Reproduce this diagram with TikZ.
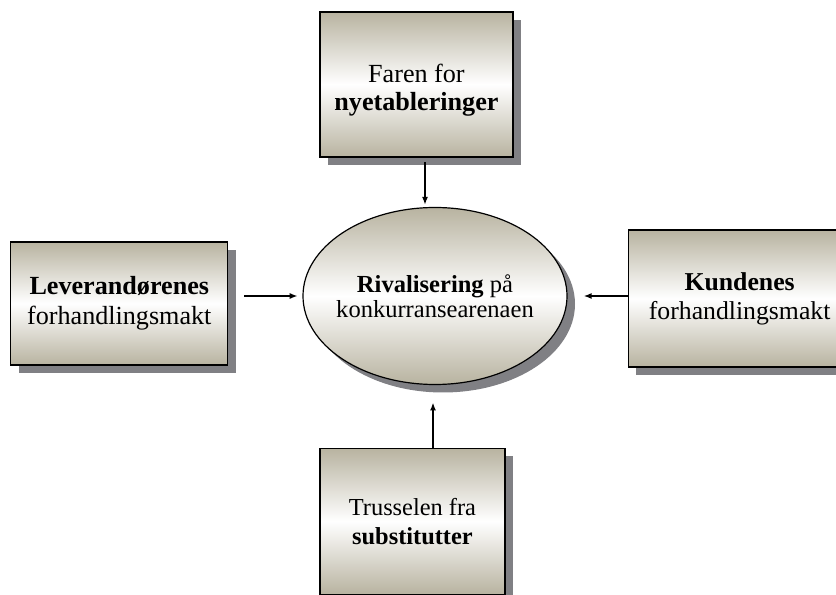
\documentclass[tikz,border=0pt]{standalone}
\usepackage{fontspec}
\setmainfont{Liberation Serif}
\usetikzlibrary{positioning,shadows,shapes.geometric,arrows.meta}
\definecolor{khaki}{RGB}{184,179,160}
\definecolor{shade}{RGB}{128,128,132}

\begin{document}
\begin{tikzpicture}[node distance=40pt, >={Latex[length=6pt,width=4.5pt]},
    force/.style = {draw, line width=0.9pt, align=center, inner sep=0pt,
      top color=khaki, bottom color=khaki, middle color=white,
      drop shadow={shadow xshift=6pt, shadow yshift=-6pt, fill=shade, opacity=1}},
    arr/.style = {->, line width=1.2pt}]
    \useasboundingbox (0,0) rectangle (627pt,-446.25pt);
    \node[force, ellipse, inner xsep=-10pt, minimum width=198pt, minimum height=132.75pt, font=\fontsize{18.4}{18.75}\selectfont] (rival) at (326.25pt,-222pt) {\textbf{Rivalisering} på\\konkurransearenaen};
    \node[force, minimum width=144.75pt, minimum height=108.75pt, font=\fontsize{19.6}{21}\selectfont] (faren) [above=37pt of rival, xshift=-13.9pt] {\rule{0pt}{23pt}Faren for\\\textbf{nyetableringer}};
    \node[force, minimum width=162.75pt, minimum height=92.25pt, font=\fontsize{19.6}{22.5}\selectfont] (lev) [left=55.5pt of rival, yshift=-5.6pt] {\textbf{Leverandørenes}\\forhandlingsmakt};
    \node[force, minimum width=167pt, minimum height=102.75pt, font=\fontsize{19.3}{22}\selectfont] (kunde) [right=45.1pt of rival, yshift=-1.9pt] {\textbf{Kundenes}\\forhandlingsmakt};
    \node[force, minimum width=138.75pt, minimum height=109.5pt, font=\fontsize{18.3}{21.5}\selectfont] (subst) [below=46.9pt of rival, xshift=-16.9pt] {Trusselen fra\\\textbf{substitutter}};
    % krefter inn mot midten
    \draw[arr, shorten <=3.5pt, shorten >=1.5pt] ([xshift=6.4pt]faren.south) -- ([xshift=6.4pt]faren.south |- rival.north);
    \draw[arr, shorten <=12pt, shorten >=3.5pt] (lev.east |- rival.west) -- (rival.west);
    \draw[arr, shorten >=12pt] (kunde.west |- rival.east) -- (rival.east);
    \draw[arr, shorten >=13pt] ([xshift=15.4pt]subst.north) -- ([xshift=15.4pt]subst.north |- rival.south);
\end{tikzpicture}
\end{document}
